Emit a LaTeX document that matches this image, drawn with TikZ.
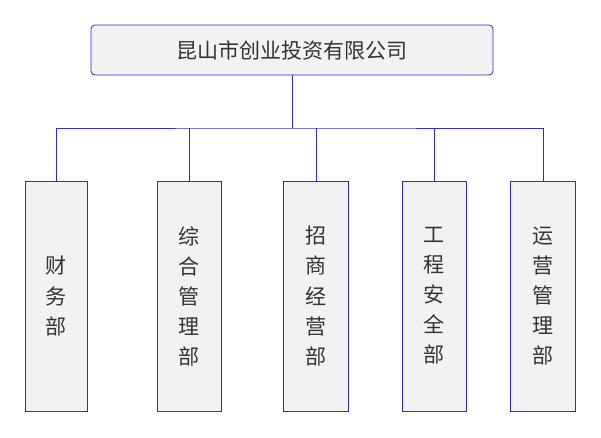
\documentclass[tikz,border=0pt]{standalone}
\usepackage{fontspec}
\setmainfont{Noto Sans CJK SC}
\definecolor{bl}{HTML}{2B2BD9}
\definecolor{gf}{HTML}{F2F2F2}
\definecolor{tx}{HTML}{333333}
\begin{document}
\begin{tikzpicture}[x=1pt,y=-1pt,
 box/.style={draw=bl,fill=gf,line width=0.8pt,inner sep=0pt,text=tx,font=\fontsize{21}{30}\selectfont},
 ln/.style={draw=bl,line width=0.8pt}]
\useasboundingbox (0,0) rectangle (601,437);
\node[box,rounded corners=4pt,minimum width=402pt,minimum height=50pt] (top) at (292,50) {昆山市创业投资有限公司};
\node[box,minimum width=62pt,minimum height=230pt,align=center] (a) at (56,296) {财\\务\\部};
\node[box,minimum width=64pt,minimum height=230pt,align=center] (b) at (189,296) {综\\合\\管\\理\\部};
\node[box,minimum width=65pt,minimum height=230pt,align=center] (c) at (316,296) {招\\商\\经\\营\\部};
\node[box,minimum width=64pt,minimum height=230pt,align=center] (d) at (434,296) {工\\程\\安\\全\\部};
\node[box,minimum width=65pt,minimum height=230pt,align=center] (e) at (543,296) {运\\营\\管\\理\\部};
\coordinate (j) at (292,128);
\draw[ln] (top.south) -- (j);
\draw[ln] (a.north) |- (j) -| (e.north);
\foreach \n in {b,c,d} \draw[ln] (\n.north) -- (\n.north |- j);
\end{tikzpicture}
\end{document}
